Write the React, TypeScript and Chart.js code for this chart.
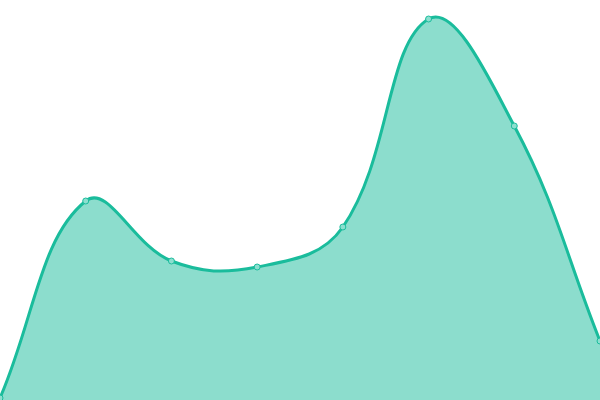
import React, { useEffect, useRef } from "react";
import { Chart, registerables } from "chart.js";

Chart.register(...registerables);

const labels = ["1", "2", "3", "4", "5", "6", "7", "8"];
const values = [2, 199, 139, 133, 173, 381, 274, 59];
const yMin = 0;
const yMax = 400;

export default function App() {
  const ref = useRef<HTMLCanvasElement | null>(null);
  useEffect(() => {
    document.body.style.margin = "0";
    if (!ref.current) return;
    const chart = new Chart(ref.current, {
      type: "line",
      data: {
        labels,
        datasets: [
          {
            data: values,
            borderColor: "#1abc9c",
            backgroundColor: "rgba(26,188,156,0.5)",
            borderWidth: 3,
            fill: true,
            tension: 0.4,
            pointRadius: 3,
            pointBorderWidth: 1,
            pointBackgroundColor: "#8cdfcf",
            pointBorderColor: "#1abc9c",
          },
        ],
      },
      options: {
        animation: false,
        responsive: false,
        maintainAspectRatio: false,
        layout: { padding: 0, autoPadding: false },
        plugins: { legend: { display: false }, tooltip: { enabled: false } },
        scales: {
          x: { display: false, offset: false },
          y: { display: false, min: yMin, max: yMax },
        },
      },
    });
    return () => chart.destroy();
  }, []);
  return (
    <div style={{ width: 600, height: 400 }}>
      <canvas ref={ref} width={600} height={400} style={{ display: "block" }} />
    </div>
  );
}
